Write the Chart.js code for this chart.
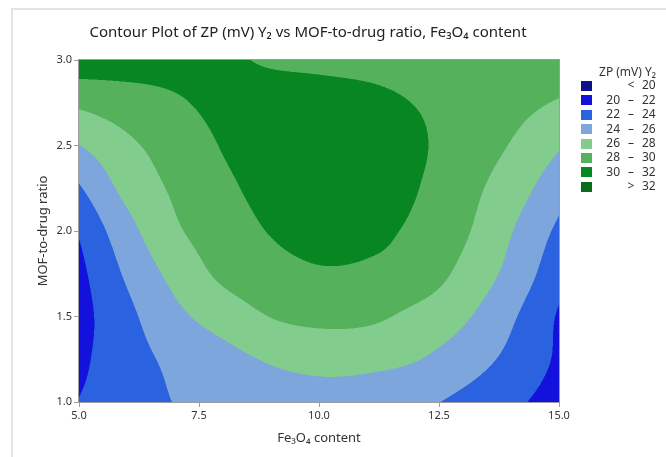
<!DOCTYPE html>
<html>
<head>
<meta charset="utf-8">
<script src="https://cdn.jsdelivr.net/npm/chart.js@4.4.1/dist/chart.umd.min.js"></script>
<style>
  html, body { margin: 0; padding: 0; background: #fff; }
  #wrap { width: 666px; height: 457px; position: relative; }
</style>
</head>
<body>
<div id="wrap"><canvas id="chartContorno"></canvas></div>
<script>
// Grade do modelo: teor de Fe3O4 (x) e razão MOF/fármaco (y)
const fe3o4Content = [5, 6, 7, 8, 9, 10, 11, 12, 13, 14, 15];
const mofToDrug = [1.0, 1.25, 1.5, 1.75, 2.0, 2.25, 2.5, 2.75, 3.0];

// ZP (mV) em cada linha da grade (uma linha por razão MOF/fármaco)
const zpRatio100 = [22.05, 23.0, 24.05, 24.6, 25.0, 25.2, 25.1, 24.5, 23.5, 22.4, 21.2];
const zpRatio125 = [21.6, 23.2, 24.45, 25.35, 26.2, 26.6, 26.5, 26.1, 25.0, 23.5, 21.7];
const zpRatio150 = [21.3, 23.5, 25.5, 26.85, 28.05, 28.5, 28.4, 27.5, 26.3, 24.3, 21.8];
const zpRatio175 = [21.5, 24.3, 26.6, 28.4, 29.3, 29.8, 29.7, 29.2, 27.5, 25.4, 22.7];
const zpRatio200 = [22.2, 25.3, 27.7, 29.0, 30.1, 30.6, 30.4, 29.7, 28.3, 26.1, 23.6];
const zpRatio225 = [23.8, 26.6, 28.3, 29.6, 30.6, 31.1, 30.9, 30.1, 28.7, 27.0, 24.8];
const zpRatio250 = [25.95, 27.6, 28.9, 30.1, 30.8, 31.2, 31.0, 30.3, 29.1, 27.9, 26.2];
const zpRatio275 = [28.4, 29.1, 29.8, 30.4, 30.7, 30.7, 30.5, 29.95, 29.3, 28.6, 27.85];
const zpRatio300 = [31.3, 31.0, 30.6, 30.3, 29.8, 29.6, 29.4, 29.2, 29.15, 29.05, 29.0];

// Faixas de contorno e cores
const zpLevels = [20, 22, 24, 26, 28, 30, 32];
const zpColors = ['#10108e', '#1212dc', '#2a62e0', '#7ca6dc', '#82cc8e', '#56b15c', '#078621', '#0b6a1c'];

const xTicks = [5, 7.5, 10, 12.5, 15];
const yTicks = [1, 1.5, 2, 2.5, 3];

const zpGrid = [zpRatio100, zpRatio125, zpRatio150, zpRatio175, zpRatio200,
  zpRatio225, zpRatio250, zpRatio275, zpRatio300];

// Catmull-Rom entre p1 e p2
function cubic(p0, p1, p2, p3, t) {
  return p1 + 0.5 * t * (p2 - p0 + t * (2 * p0 - 5 * p1 + 4 * p2 - p3 + t * (3 * (p1 - p2) + p3 - p0)));
}

function findCell(axis, v) {
  let i = 0;
  while (i < axis.length - 2 && v > axis[i + 1]) i++;
  const t = (v - axis[i]) / (axis[i + 1] - axis[i]);
  return [i, Math.min(Math.max(t, 0), 1)];
}

// valor de uma linha com extrapolação linear nas bordas
function rowVal(row, k) {
  const n = row.length;
  if (k < 0) return 2 * row[0] - row[1];
  if (k >= n) return 2 * row[n - 1] - row[n - 2];
  return row[k];
}

function zpAt(xv, yv) {
  const [i, tx] = findCell(fe3o4Content, xv);
  const [j, ty] = findCell(mofToDrug, yv);
  const col = [];
  for (let k = j - 1; k <= j + 2; k++) {
    let row;
    if (k < 0) row = zpGrid[0].map((v, c) => 2 * v - zpGrid[1][c]);
    else if (k >= zpGrid.length) row = zpGrid[zpGrid.length - 1].map((v, c) => 2 * v - zpGrid[zpGrid.length - 2][c]);
    else row = zpGrid[k];
    col.push(cubic(rowVal(row, i - 1), rowVal(row, i), rowVal(row, i + 1), rowVal(row, i + 2), tx));
  }
  return cubic(col[0], col[1], col[2], col[3], ty);
}

function levelIndex(z) {
  let k = 0;
  while (k < zpLevels.length && z >= zpLevels[k]) k++;
  return k;
}

function hexToRgb(h) {
  return [parseInt(h.slice(1, 3), 16), parseInt(h.slice(3, 5), 16), parseInt(h.slice(5, 7), 16)];
}
const zpRgb = zpColors.map(hexToRgb);

const fontFamily = "'Noto Sans', 'Open Sans', sans-serif";

// Preenchimento do contorno, pixel a pixel, usando as escalas do gráfico
const contourFill = {
  id: 'contourFill',
  beforeDraw(chart) {
    const ctx = chart.ctx;
    ctx.save();
    ctx.fillStyle = '#fff';
    ctx.fillRect(0, 0, chart.width, chart.height);
    ctx.strokeStyle = '#e4e4e4';
    ctx.lineWidth = 2;
    ctx.beginPath();
    ctx.moveTo(12, chart.height);
    ctx.lineTo(12, 9);
    ctx.lineTo(chart.width, 9);
    ctx.stroke();
    ctx.restore();
  },
  beforeDatasetsDraw(chart) {
    const { ctx, chartArea: a, scales: { x, y } } = chart;
    const left = Math.round(a.left), top = Math.round(a.top);
    const w = Math.round(a.right) - left, h = Math.round(a.bottom) - top;
    const img = ctx.createImageData(w, h);
    const subs = [[0, 0], [1, 0], [0, 1], [1, 1]];
    const yVals = [], xVals = [];
    for (let py = 0; py < h; py++) yVals.push([y.getValueForPixel(top + py + 0.25), y.getValueForPixel(top + py + 0.75)]);
    for (let px = 0; px < w; px++) xVals.push([x.getValueForPixel(left + px + 0.25), x.getValueForPixel(left + px + 0.75)]);
    let p = 0;
    for (let py = 0; py < h; py++) {
      for (let px = 0; px < w; px++) {
        let r = 0, g = 0, b = 0;
        for (const [sx, sy] of subs) {
          const c = zpRgb[levelIndex(zpAt(xVals[px][sx], yVals[py][sy]))];
          r += c[0]; g += c[1]; b += c[2];
        }
        img.data[p++] = r / 4;
        img.data[p++] = g / 4;
        img.data[p++] = b / 4;
        img.data[p++] = 255;
      }
    }
    ctx.putImageData(img, left, top);
  },
  afterDatasetsDraw(chart) {
    const { ctx, chartArea: a } = chart;
    ctx.save();
    ctx.strokeStyle = '#9d9d9d';
    ctx.lineWidth = 1;
    ctx.strokeRect(Math.round(a.left) - 0.5, Math.round(a.top) - 0.5, Math.round(a.right - a.left) + 1, Math.round(a.bottom - a.top) + 1);
    ctx.restore();
  },
  afterDraw(chart) {
    const ctx = chart.ctx;
    ctx.save();
    // título
    ctx.fillStyle = '#222';
    ctx.font = '15px ' + fontFamily;
    ctx.textAlign = 'center';
    ctx.textBaseline = 'middle';
    ctx.fillText('Contour Plot of ZP (mV) Y\u2082 vs MOF-to-drug ratio, Fe\u2083O\u2084 content', 308, 33);

    // legenda
    ctx.font = '12px ' + fontFamily;
    ctx.fillStyle = '#333';
    ctx.textAlign = 'right';
    ctx.fillText('ZP (mV) Y\u2082', 656, 73);
    for (let i = 0; i < zpColors.length; i++) {
      const cy = 86 + i * 14.4;
      ctx.fillStyle = zpColors[i];
      ctx.fillRect(581, Math.round(cy - 5), 11, 10);
      ctx.fillStyle = '#333';
      let lo = '', sym = '\u2013', hi = '';
      if (i === 0) { sym = '<'; hi = String(zpLevels[0]); }
      else if (i === zpColors.length - 1) { sym = '>'; hi = String(zpLevels[zpLevels.length - 1]); }
      else { lo = String(zpLevels[i - 1]); hi = String(zpLevels[i]); }
      ctx.textAlign = 'right';
      if (lo) ctx.fillText(lo, 620, cy);
      ctx.textAlign = 'center';
      ctx.fillText(sym, 631, cy);
      ctx.textAlign = 'left';
      ctx.fillText(hi, 642, cy);
    }
    ctx.restore();
  }
};

const gridPoints = [];
mofToDrug.forEach((yv, j) => fe3o4Content.forEach((xv, i) => gridPoints.push({ x: xv, y: yv, z: zpGrid[j][i] })));

const tickFont = { family: fontFamily, size: 11 };
const titleFont = { family: fontFamily, size: 13 };

new Chart(document.getElementById('chartContorno'), {
  type: 'scatter',
  data: {
    datasets: [{
      label: 'ZP (mV) Y\u2082',
      data: gridPoints,
      pointRadius: 0,
      pointHoverRadius: 0
    }]
  },
  plugins: [contourFill],
  options: {
    responsive: true,
    maintainAspectRatio: false,
    animation: false,
    devicePixelRatio: 1,
    layout: { padding: { top: 60, right: 107, bottom: 0, left: 0 } },
    plugins: {
      legend: { display: false },
      tooltip: { enabled: false },
      title: { display: false }
    },
    scales: {
      x: {
        type: 'linear',
        min: 5,
        max: 15,
        afterBuildTicks: s => { s.ticks = xTicks.map(v => ({ value: v })); },
        afterFit: s => { s.height = 55; },
        ticks: { callback: v => Number(v).toFixed(1), font: tickFont, color: '#333', padding: 2, maxRotation: 0 },
        grid: { drawOnChartArea: false, drawTicks: true, tickLength: 5, color: '#9d9d9d' },
        border: { display: true, color: '#9d9d9d' },
        title: { display: true, text: 'Fe\u2083O\u2084 content', font: titleFont, color: '#333', padding: { top: 0, bottom: 11 } }
      },
      y: {
        type: 'linear',
        min: 1,
        max: 3,
        afterBuildTicks: s => { s.ticks = yTicks.map(v => ({ value: v })); },
        afterFit: s => { s.width = 79; },
        ticks: { callback: v => Number(v).toFixed(1), font: tickFont, color: '#333', padding: 2 },
        grid: { drawOnChartArea: false, drawTicks: true, tickLength: 5, color: '#9d9d9d' },
        border: { display: true, color: '#9d9d9d' },
        title: { display: true, text: 'MOF-to-drug ratio', font: titleFont, color: '#333', padding: { top: 35, bottom: 0 } }
      }
    }
  }
});
</script>
</body>
</html>
